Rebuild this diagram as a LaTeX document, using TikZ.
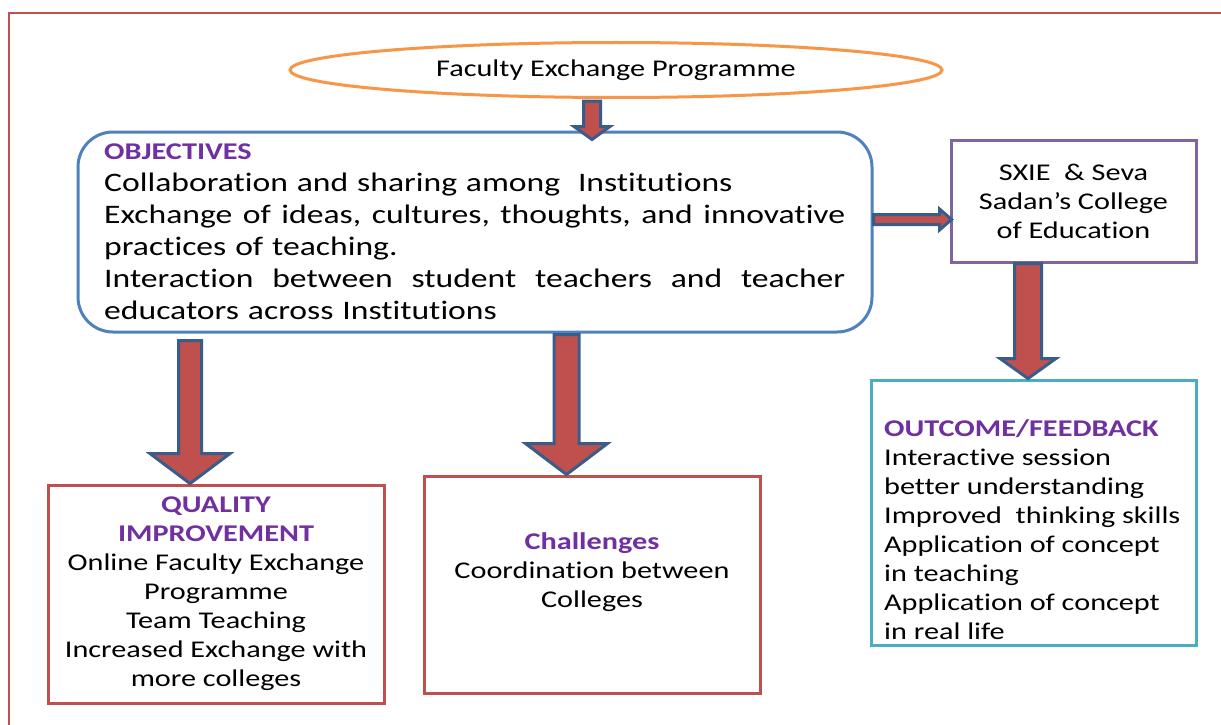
\documentclass[tikz,border=0pt]{standalone}
\usepackage{fontspec}
\setmainfont{Carlito}[FakeStretch=1.26,Ligatures={NoCommon}]
\usetikzlibrary{calc,shapes.geometric}
\definecolor{frameRed}{HTML}{C0504D}
\definecolor{ellOrange}{HTML}{F79646}
\definecolor{objBlue}{HTML}{4F81BD}
\definecolor{sxPurple}{HTML}{8064A2}
\definecolor{outCyan}{HTML}{4BACC6}
\definecolor{headPurple}{HTML}{7030A0}
\definecolor{arrBorder}{HTML}{385D8A}
\definecolor{arrFill}{HTML}{C0504D}
\tikzset{
  boxline/.style={line width=3pt, inner sep=0pt},
  fatarrow/.style={fill=arrFill, draw=arrBorder, line width=3pt, line join=miter},
  bigtext/.style={font=\fontsize{26.7}{32}\selectfont},
  smalltext/.style={font=\fontsize{24}{29}\selectfont},
}
\newcommand\headfont{\fontsize{24}{29}\selectfont\bfseries\color{headPurple}}
\newcommand\fullline[1]{\leavevmode\hbox to 741pt{#1}}
\newcommand\fatdown[5]{%
  \path[fatarrow] let \p1=(#1), \p2=(#2) in
    (\x1-#3pt,\y1) -- (\x1-#3pt,\y2+#5pt) -- (\x1-#4pt,\y2+#5pt) -- (\x1,\y2)
    -- (\x1+#4pt,\y2+#5pt) -- (\x1+#3pt,\y2+#5pt) -- (\x1+#3pt,\y1) -- cycle;}
\newcommand\fatright[5]{%
  \path[fatarrow] let \p1=(#1), \p2=(#2) in
    (\x1,\y1+#3pt) -- (\x2-#5pt,\y1+#3pt) -- (\x2-#5pt,\y1+#4pt) -- (\x2,\y1)
    -- (\x2-#5pt,\y1-#4pt) -- (\x2-#5pt,\y1-#3pt) -- (\x1,\y1-#3pt) -- cycle;}
\begin{document}
\begin{tikzpicture}[x=1pt,y=-1pt]
\useasboundingbox (0,0) rectangle (1221,725);
\fill[white] (0,0) rectangle (1221,725);
% outer frame
\draw[frameRed, line width=2pt] (9,730) -- (9,13) -- (1230,13);

% ellipse
\node[ellipse, draw=ellOrange, boxline, minimum width=652pt, minimum height=55pt, smalltext] (fep) at (616,70) {Faculty Exchange Programme};

% objectives
\node[draw=objBlue, boxline, rounded corners=35pt, minimum width=794pt, minimum height=200pt] (obj) at (475,232) {};
\node[anchor=north west, inner sep=0pt, text width=741pt, align=left, bigtext] (objtxt) at (104,144)
  {{\headfont OBJECTIVES}\\
   Collaboration and sharing among\ \ Institutions\\
   \fullline{Exchange\hfil\ of\hfil\ ideas,\hfil\ cultures,\hfil\ thoughts,\hfil\ and\hfil\ innovative}\\
   practices of teaching.\\
   \fullline{Interaction\hfil\ between\hfil\ student\hfil\ teachers\hfil\ and\hfil\ teacher}\\
   educators across Institutions};

% SXIE
\node[draw=sxPurple, boxline, minimum width=245pt, minimum height=122pt, align=center, smalltext] (sx) at (1073.5,201)
  {SXIE\ \ \& Seva\\ Sadan’s College\\ of Education};

% outcome
\node[draw=outCyan, boxline, minimum width=325pt, minimum height=265pt] (out) at (1033.5,512.5) {};
\node[anchor=north west, inner sep=0pt, align=left, smalltext] (outtxt) at (884,419)
  {{\headfont OUTCOME/FEEDBACK}\\
   Interactive session\\
   better understanding\\
   Improved\ \ thinking skills\\
   Application of concept\\
   in teaching\\
   Application of concept\\
   in real life};

% quality
\node[draw=frameRed, boxline, minimum width=336pt, minimum height=218pt, align=center, smalltext] (qual) at (216,594)
  {{\headfont QUALITY}\\ {\headfont IMPROVEMENT}\\ Online Faculty Exchange\\ Programme\\ Team Teaching\\ Increased Exchange with\\ more colleges};

% challenges
\node[draw=frameRed, boxline, minimum width=336pt, minimum height=217pt] (chal) at (592,584.5) {};
\node[align=center, inner sep=0pt, smalltext] (chaltxt) at (592,572)
  {{\headfont Challenges}\\ Coordination between\\ Colleges};

% arrows
\coordinate (a0s) at ($(fep.south)+(-24,2)$);
\coordinate (a0e) at ($(obj.north -| a0s)+(0,9)$);
\fatdown{a0s}{a0e}{8.5}{18}{13}

\coordinate (a1s) at ($(obj.east)+(0,-12.5)$);
\coordinate (a1e) at ($(sx.west |- a1s)+(2,0)$);
\fatright{a1s}{a1e}{5}{10.5}{12}

\coordinate (a2s) at (190,340.5);
\coordinate (a2e) at (a2s |- qual.north);
\fatdown{a2s}{a2e}{11.5}{40}{30}

\coordinate (a3s) at ($(obj.south)+(91.5,1)$);
\coordinate (a3e) at (a3s |- chal.north);
\fatdown{a3s}{a3e}{12.5}{41}{31}

\coordinate (a4s) at ($(sx.south)+(-45.5,0)$);
\coordinate (a4e) at (a4s |- out.north);
\fatdown{a4s}{a4e}{13.5}{28}{20}
\end{tikzpicture}
\end{document}
